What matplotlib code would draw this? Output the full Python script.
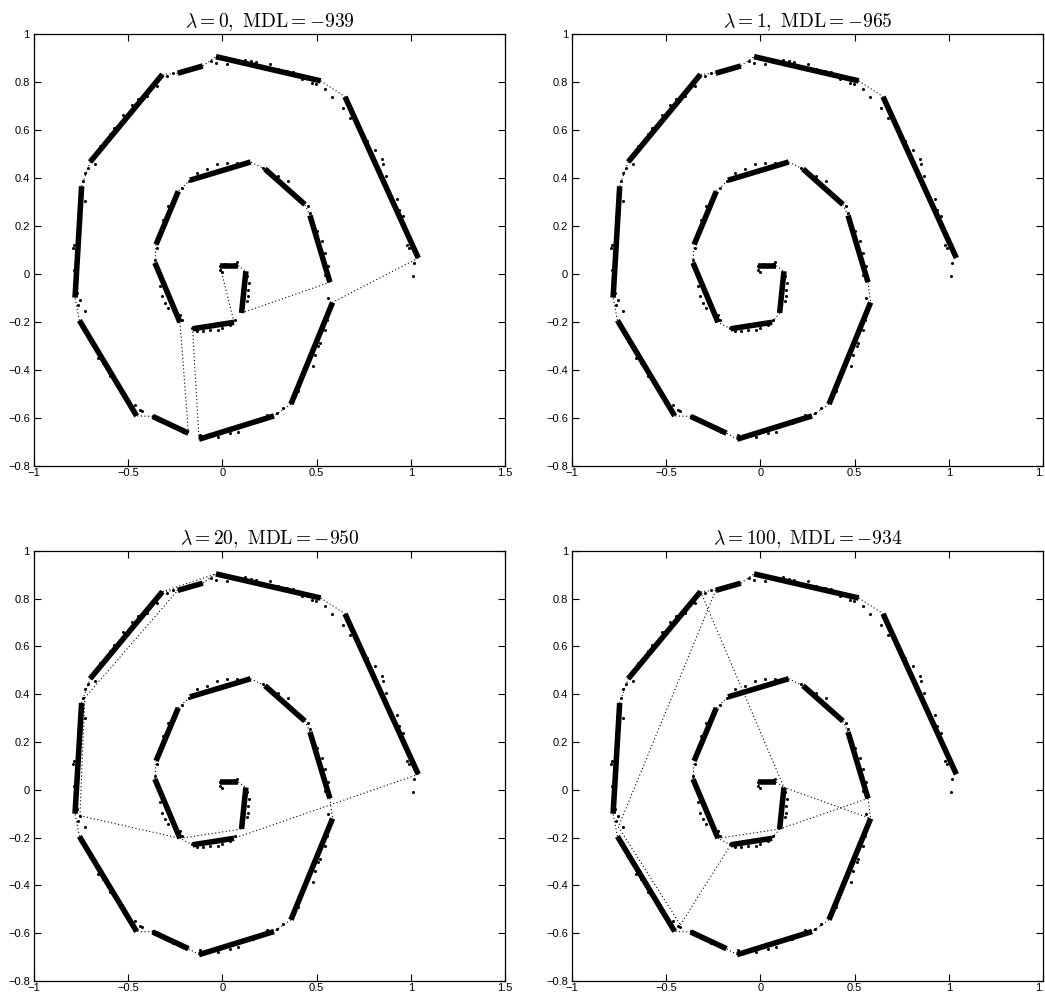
import numpy as np
import matplotlib
matplotlib.use('Agg')
import matplotlib.pyplot as plt

plt.rcParams['mathtext.fontset'] = 'cm'
plt.rcParams['font.family'] = ['Liberation Sans', 'DejaVu Sans']

# vertices of the fitted polygonal line (segment end points + a few bend points)
vx = [-0.013, 0.084, 0.125, 0.102, -0.158, 0.062, -0.358, -0.225, -0.352, -0.234,
      -0.172, 0.150, 0.226, 0.438, 0.465, 0.571, 0.585, 0.364, 0.274, -0.124,
      -0.180, -0.370, -0.455, -0.759, -0.782, -0.747, -0.702, -0.318, -0.237, -0.104,
      -0.034, 0.522, 0.651, 1.040, -0.754, -0.425, -0.730, -0.756]
vy = [0.033, 0.033, 0.010, -0.164, -0.230, -0.203, 0.045, -0.203, 0.121, 0.343,
      0.389, 0.465, 0.436, 0.288, 0.242, -0.036, -0.120, -0.544, -0.593, -0.690,
      -0.665, -0.595, -0.593, -0.195, -0.100, 0.364, 0.465, 0.830, 0.835, 0.865,
      0.904, 0.803, 0.737, 0.065, -0.155, -0.565, 0.385, -0.108]

# thick segments (vertex index pairs)
segments = [(0, 1), (2, 3), (4, 5), (6, 7), (8, 9), (10, 11), (12, 13), (14, 15),
            (16, 17), (18, 19), (20, 21), (22, 23), (24, 25), (26, 27), (28, 29),
            (30, 31), (32, 33)]

# dotted connections between segments, one list per panel
natural = [(1, 2), (3, 5), (4, 7), (6, 8), (9, 10), (11, 12), (13, 14), (15, 16),
           (17, 18), (19, 20), (21, 22), (23, 24), (25, 26), (27, 28), (29, 30), (31, 32)]
links_l0 = [(0, 5), (1, 2), (3, 15), (14, 13), (12, 11), (10, 9), (8, 6), (7, 20),
            (21, 22), (23, 24), (25, 26), (27, 28), (29, 30), (31, 32), (33, 16),
            (17, 18), (19, 4)]
links_l1 = natural
links_l20 = [l for l in natural if l != (3, 5)] + [(33, 5), (7, 3), (37, 7), (37, 36),
                                                    (36, 28), (27, 30)]
links_l100 = natural + [(27, 2), (28, 34), (34, 35), (35, 4), (2, 16), (7, 3), (3, 15)]

# data points
px = [-0.062, -0.034, 0.023, 0.120, 0.150, 0.179, 0.253, 0.297, 0.345, 0.377, 0.421, 0.474,
      0.497, 0.545, 0.580, 0.642, 0.678, 0.770, 0.810, 0.846, 0.851, 0.869, 0.925, 0.939,
      0.957, 0.978, 0.993, 1.017, 1.014, -0.295, -0.349, -0.402, -0.446, -0.481, -0.525,
      -0.575, -0.596, -0.649, -0.676, -0.711, -0.260, -0.729, -0.738, -0.729, -0.764,
      -0.787, -0.791, -0.787, -0.782, -0.770, -0.755, -0.729, -0.764, -0.702, -0.658,
      -0.632, -0.596, -0.534, -0.464, -0.437, -0.428, -0.366, -0.331, -0.260, -0.207,
      -0.119, -0.021, 0.041, 0.085, 0.165, 0.235, 0.288, 0.324, 0.368, 0.403, 0.483,
      0.492, 0.510, 0.518, 0.545, 0.554, 0.563, 0.545, 0.563, 0.545, 0.527, 0.501,
      0.465, 0.456, 0.421, 0.350, 0.297, 0.235, 0.218, 0.129, 0.076, 0.023, -0.030,
      -0.083, -0.136, -0.175, -0.216, -0.242, -0.287, -0.313, -0.322, -0.340, -0.349,
      -0.357, -0.349, -0.331, -0.322, -0.304, -0.287, -0.225, -0.216, -0.163, -0.136,
      -0.101, -0.065, -0.021, -0.004, 0.041, 0.067, 0.129, 0.143, 0.138, 0.138, 0.129,
      0.111, -0.012, -0.004, 0.014, 0.041, 0.067, 0.080, -0.012]
py = [0.886, 0.879, 0.873, 0.890, 0.884, 0.880, 0.874, 0.853, 0.846, 0.839, 0.810, 0.796,
      0.789, 0.768, 0.737, 0.691, 0.650, 0.552, 0.517, 0.476, 0.455, 0.406, 0.312, 0.267,
      0.239, 0.121, 0.107, 0.045, -0.008, 0.823, 0.782, 0.740, 0.726, 0.701, 0.659,
      0.608, 0.580, 0.531, 0.455, 0.441, 0.835, 0.420, 0.385, 0.302, 0.239,
      0.121, 0.107, 0.017, -0.011, -0.081, -0.108, -0.157, -0.129, -0.282, -0.352,
      -0.373, -0.428, -0.484, -0.547, -0.568, -0.574, -0.593, -0.606, -0.640, -0.658,
      -0.672, -0.679, -0.665, -0.658, -0.623, -0.588, -0.581, -0.561, -0.526, -0.491, -0.387,
      -0.338, -0.303, -0.289, -0.234, -0.192, -0.102, -0.004, 0.031, 0.086, 0.135, 0.177,
      0.253, 0.281, 0.295, 0.385, 0.406, 0.434, 0.441, 0.462, 0.462, 0.462, 0.455,
      0.434, 0.420, 0.385, 0.357, 0.337, 0.281, 0.225, 0.198, 0.142, 0.107,
      0.058, 0.031, -0.053, -0.095, -0.122, -0.143, -0.171, -0.192, -0.227, -0.241,
      -0.241, -0.234, -0.234, -0.227, -0.213, -0.192, -0.011, -0.039, -0.067, -0.095, -0.115,
      -0.136, 0.031, 0.006, 0.038, 0.031, 0.042, 0.047, 0.017]

titles = [r'$\lambda = 0,\ \mathrm{MDL} = -939$', r'$\lambda = 1,\ \mathrm{MDL} = -965$',
          r'$\lambda = 20,\ \mathrm{MDL} = -950$', r'$\lambda = 100,\ \mathrm{MDL} = -934$']
panel_links = [links_l0, links_l1, links_l20, links_l100]

xticks = [-1, -0.5, 0, 0.5, 1, 1.5]
xticklabels = ['\u22121', '\u22120.5', '0', '0.5', '1', '1.5']
yticks = [-0.8, -0.6, -0.4, -0.2, 0, 0.2, 0.4, 0.6, 0.8, 1]
yticklabels = ['\u22120.8', '\u22120.6', '\u22120.4', '\u22120.2', '0', '0.2', '0.4', '0.6', '0.8', '1']

vx = np.array(vx)
vy = np.array(vy)

fig = plt.figure(figsize=(10.45, 9.97), dpi=100)
rects = [[0.0325, 0.533, 0.4507, 0.4333], [0.5474, 0.533, 0.4507, 0.4333],
         [0.0325, 0.0161, 0.4507, 0.4313], [0.5474, 0.0161, 0.4507, 0.4313]]

for k in range(4):
    ax = fig.add_axes(rects[k])
    for a, b in panel_links[k]:
        ax.plot(vx[[a, b]], vy[[a, b]], color='k', lw=0.8, linestyle=(0, (1, 2.2)))
    for a, b in segments:
        ax.plot(vx[[a, b]], vy[[a, b]], color='k', lw=4.0, solid_capstyle='butt')
    ax.plot(px, py, 'o', color='k', ms=2.2, mew=0)
    ax.set_xlim(-1, 1.5)
    ax.set_ylim(-0.8, 1)
    ax.set_xticks(xticks)
    ax.set_xticklabels(xticklabels)
    ax.set_yticks(yticks)
    ax.set_yticklabels(yticklabels)
    ax.tick_params(direction='in', length=5, width=0.8, top=True, right=True,
                   labelsize=8)
    ax.tick_params(axis='x', pad=1.5)
    ax.tick_params(axis='y', pad=3)
    for s in ax.spines.values():
        s.set_linewidth(0.9)
    ax.set_title(titles[k], fontsize=14, pad=5)

fig.savefig('out.png', dpi=100)
